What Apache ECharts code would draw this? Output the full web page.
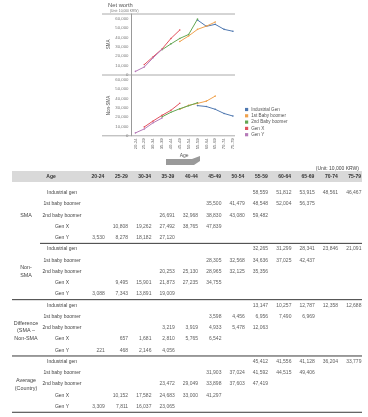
<!DOCTYPE html>
<html><head><meta charset="utf-8">
<script src="https://cdn.jsdelivr.net/npm/echarts@6/dist/echarts.min.js"></script>
<style>html,body{margin:0;padding:0;background:#fff}#c{width:368px;height:417px}</style>
</head><body><div id="c"></div>
<script>
const ages = ['20-24','25-29','30-34','35-39','40-44','45-49','50-54','55-59','60-64','65-69','70-74','75-79'];
const genNames = ['Industrial Gen','1st Baby boomer','2nd Baby boomer','Gen X','Gen Y'];
const rowNames = ['Industrial gen','1st baby boomer','2nd baby boomer','Gen X','Gen Y'];
const groupNames = ['SMA','Non-\nSMA','Difference\n(SMA –\nNon-SMA','Average\n(Country)'];
const colors = ['#4f78b0','#f0a24e','#63a653','#e2505c','#b57ab8'];
const N = null;
// SMA (10,000 KRW)
const smaIndustrial = [N,N,N,N,N,N,N,58559,51812,53915,48561,46467];
const sma1stBoomer  = [N,N,N,N,N,35500,41479,48548,52004,56375,N,N];
const sma2ndBoomer  = [N,N,N,26691,32968,38830,43080,59482,N,N,N,N];
const smaGenX       = [N,10808,19262,27492,38765,47839,N,N,N,N,N,N];
const smaGenY       = [3530,8278,18182,27120,N,N,N,N,N,N,N,N];
// Non-SMA
const nonIndustrial = [N,N,N,N,N,N,N,32265,31299,28341,23846,21091];
const non1stBoomer  = [N,N,N,N,N,28305,32568,34636,37025,42437,N,N];
const non2ndBoomer  = [N,N,N,20253,25130,28965,32125,35356,N,N,N,N];
const nonGenX       = [N,9495,15901,21873,27235,34755,N,N,N,N,N,N];
const nonGenY       = [3088,7343,13891,19009,N,N,N,N,N,N,N,N];
// Difference
const difIndustrial = [N,N,N,N,N,N,N,13147,10257,12787,12358,12688];
const dif1stBoomer  = [N,N,N,N,N,3598,4456,6956,7490,6969,N,N];
const dif2ndBoomer  = [N,N,N,3219,3919,4933,5478,12063,N,N,N,N];
const difGenX       = [N,657,1681,2810,5765,6542,N,N,N,N,N,N];
const difGenY       = [221,468,2146,4056,N,N,N,N,N,N,N,N];
// Average (Country)
const avgIndustrial = [N,N,N,N,N,N,N,45412,41556,41128,36204,33779];
const avg1stBoomer  = [N,N,N,N,N,31903,37024,41592,44515,49406,N,N];
const avg2ndBoomer  = [N,N,N,23472,29049,33898,37603,47419,N,N,N,N];
const avgGenX       = [N,10152,17582,24683,33000,41297,N,N,N,N,N,N];
const avgGenY       = [3309,7811,16037,23065,N,N,N,N,N,N,N,N];
const yTicks = [0,10000,20000,30000,40000,50000,60000];

const smaSet = [smaIndustrial,sma1stBoomer,sma2ndBoomer,smaGenX,smaGenY];
const nonSet = [nonIndustrial,non1stBoomer,non2ndBoomer,nonGenX,nonGenY];
const tableSets = [smaSet,nonSet,[difIndustrial,dif1stBoomer,dif2ndBoomer,difGenX,difGenY],[avgIndustrial,avg1stBoomer,avg2ndBoomer,avgGenX,avgGenY]];

const FONT = 'Liberation Sans';
const fmt = v => Number(v).toLocaleString('en-US');

// layout
const gL = 131, gW = 106.4;
const topT = 14, topH = 60.7, botT = 75, botH = 60.8;
const tL = 86.3, tW = 280, tT = 187.07, rowH = 11.26;
const tableRows = [];
for (let g=0; g<4; g++) rowNames.forEach(r => tableRows.push(r));

function yAxisCfg(gi, name){
  return {type:'value', gridIndex:gi, min:0, max:65000, interval:10000,
    name:name, nameLocation:'middle', nameGap:20, nameRotate:90,
    nameTextStyle:{fontSize:4.5, color:'#555', fontFamily:FONT},
    axisLine:{show:true, lineStyle:{color:'#999', width:1}}, axisTick:{show:false},
    splitLine:{show:false},
    axisLabel:{fontSize:4.3, color:'#777', margin:2.5, fontFamily:FONT, showMaxLabel:false,
      formatter: v => yTicks.includes(v) ? fmt(v) : ''}};
}

const series = [];
genNames.forEach((n,i) => {
  series.push({type:'line', name:n, xAxisIndex:0, yAxisIndex:0, data:smaSet[i], color:colors[i],
    symbol:'circle', symbolSize:1.6, showSymbol:true, lineStyle:{width:1}, connectNulls:false, animation:false});
});
genNames.forEach((n,i) => {
  series.push({type:'line', name:n, xAxisIndex:1, yAxisIndex:1, data:nonSet[i], color:colors[i],
    symbol:'circle', symbolSize:1.6, showSymbol:true, lineStyle:{width:1}, connectNulls:false, animation:false});
});
tableSets.forEach((set,g) => {
  const data = [];
  set.forEach((arr,r) => arr.forEach((v,k) => { if (v !== null) data.push([k, g*5+r, v]); }));
  series.push({type:'scatter', name:'table'+g, xAxisIndex:2, yAxisIndex:2, data:data, symbolSize:0,
    silent:true, animation:false,
    label:{show:true, position:'inside', align:'right', offset:[6.8,0], fontSize:5, color:'#333', fontFamily:FONT,
      formatter: p => fmt(p.data[2])}});
});

const graphics = [
  {type:'text', left:108, top:2, style:{text:'Net worth', fontSize:5.8, fill:'#555', fontFamily:FONT}},
  {type:'text', left:110, top:9.8, style:{text:'(Unit: 10,000 KRW)', fontSize:3.3, fill:'#777', fontFamily:FONT}},
  {type:'line', shape:{x1:102,y1:topT,x2:235,y2:topT}, style:{stroke:'#aaa', lineWidth:1}},
  {type:'line', shape:{x1:102,y1:botT,x2:235,y2:botT}, style:{stroke:'#aaa', lineWidth:1}},
  {type:'line', shape:{x1:102,y1:botT+botH,x2:235,y2:botT+botH}, style:{stroke:'#aaa', lineWidth:1}},
  {type:'polygon', shape:{points:[[166,159],[192,159],[200,156],[200,161],[194,165],[166,165]]}, style:{fill:'#9a9a9a'}},
  {type:'text', right:9, top:166, style:{text:'(Unit: 10,000 KRW)', fontSize:5, fill:'#444', fontFamily:FONT}},
  {type:'rect', z:-10, shape:{x:12,y:171,width:350,height:11}, style:{fill:'#d9d9d9'}},
  {type:'text', x:51, y:176.5, style:{text:'Age', fontSize:5, fontWeight:'bold', fill:'#333', align:'center', verticalAlign:'middle', fontFamily:FONT}}
];
for (let g=0; g<4; g++){
  const y = tT + rowH*5*(g+1);
  graphics.push({type:'line', shape:{x1: g===0?40:12, y1:y, x2:362, y2:y}, style:{stroke:'#222', lineWidth:0.9}});
  const yc = tT + rowH*(5*g+2.5) + (g===2?3:0);
  graphics.push({type:'text', x:26, y:yc, style:{text:groupNames[g], fontSize:5.4, lineHeight:7.8, fill:'#444', align:'center', verticalAlign:'middle', fontFamily:FONT}});
}

const option = {
  animation:false,
  textStyle:{fontFamily:FONT},
  legend:{data:genNames, orient:'vertical', left:245, top:107, padding:0, itemWidth:3.2, itemHeight:3.2, itemGap:1.3,
    icon:'rect', textStyle:{fontSize:4.6, lineHeight:4.4, color:'#555', fontFamily:FONT, padding:[0,0,0,-2]}, selectedMode:false},
  grid:[
    {left:gL, top:topT, width:gW, height:topH},
    {left:gL, top:botT, width:gW, height:botH},
    {left:tL, top:tT, width:tW, height:rowH*20}
  ],
  xAxis:[
    {type:'category', gridIndex:0, data:ages, boundaryGap:true, axisLine:{show:false}, axisTick:{show:false}, axisLabel:{show:false}},
    {type:'category', gridIndex:1, data:ages, boundaryGap:true, axisLine:{show:false}, axisTick:{show:false},
      name:'Age', nameLocation:'middle', nameGap:17, nameTextStyle:{fontSize:5, color:'#555', fontFamily:FONT},
      axisLabel:{rotate:90, fontSize:4.3, color:'#666', margin:2.5, fontFamily:FONT, interval:0}},
    {type:'category', gridIndex:2, data:ages, position:'top', axisLine:{show:false}, axisTick:{show:false},
      axisLabel:{fontSize:5, fontWeight:'bold', color:'#333', margin:7.5, interval:0, fontFamily:FONT}}
  ],
  yAxis:[
    yAxisCfg(0,'SMA'),
    yAxisCfg(1,'Non-SMA'),
    {type:'category', gridIndex:2, data:tableRows, inverse:true, axisLine:{show:false}, axisTick:{show:false},
      axisLabel:{fontSize:5, color:'#444', align:'center', margin:24.3, interval:0, fontFamily:FONT}}
  ],
  graphic:graphics,
  series:series
};
const chart = echarts.init(document.getElementById('c'), null, {renderer:'canvas'});
chart.setOption(option);
</script></body></html>
